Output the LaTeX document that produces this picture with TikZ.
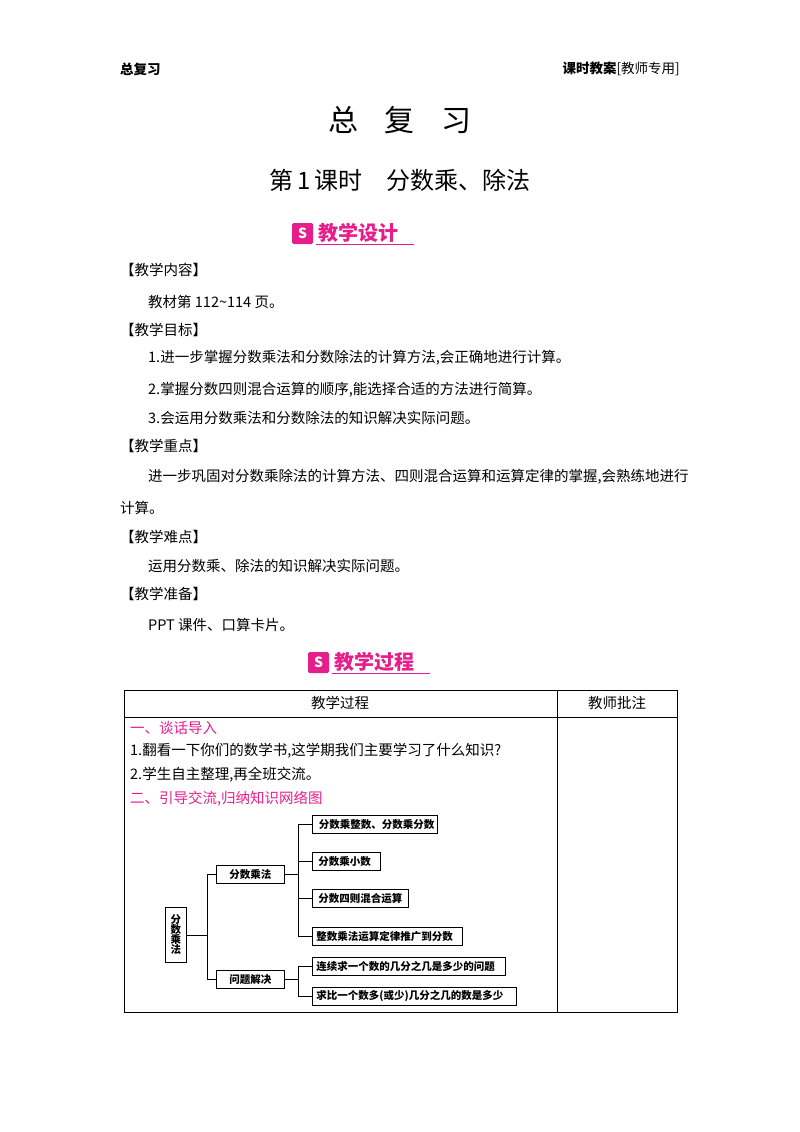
\documentclass[tikz,border=0pt]{standalone}
\usepackage{fontspec}
\setmainfont{Noto Sans CJK SC}
\definecolor{mag}{RGB}{230,30,140}
\begin{document}
\begin{tikzpicture}[x=1pt,y=-1pt,
 txt/.style={anchor=west,inner sep=0,font=\fontsize{14.5}{16}\selectfont},
 box/.style={draw,line width=0.9pt,inner sep=0,minimum height=18pt,anchor=north west,font=\fontsize{10.5}{12}\selectfont\bfseries},
 ln/.style={line width=0.7pt},
 badge/.style={anchor=west,inner sep=0,text=mag,font=\fontsize{20}{22}\selectfont\bfseries}]
\useasboundingbox (0,0) rectangle (800,1132);
\node[txt,font=\fontsize{13.5}{15}\selectfont\bfseries] (h1) at (120,69) {总复习};
\node[txt,anchor=east,font=\fontsize{13.5}{15}\selectfont] (h2) at (680,69) {\textbf{课时教案}[教师专用]};
\node[inner sep=0,font=\fontsize{30}{32}\selectfont] (t1) at (400,120) {总\hspace{0.9em}复\hspace{0.9em}习};
\node[inner sep=0,font=\fontsize{24}{26}\selectfont] (t2) at (400,180) {第\,1\,课时\hspace{1em}分数乘、除法};
% badge 1
\fill[mag,rounded corners=1.5pt] (292,223) rectangle (313,244);
\node[text=white,inner sep=0,font=\fontsize{14}{14}\selectfont\bfseries] at (302.5,233.5) {S};
\node[badge] (b1) at (318,233) {教学设计};
\draw[mag,line width=0.8pt] (316,244) -- (414,244);
\node[txt] (s1) at (120,270) {【教学内容】};
\node[txt] (s2) at (148,302) {教材第 112\textasciitilde114 页。};
\node[txt] (s3) at (120,330) {【教学目标】};
\node[txt] (s4) at (148,358) {1.进一步掌握分数乘法和分数除法的计算方法,会正确地进行计算。};
\node[txt] (s5) at (148,390) {2.掌握分数四则混合运算的顺序,能选择合适的方法进行简算。};
\node[txt] (s6) at (148,418) {3.会运用分数乘法和分数除法的知识解决实际问题。};
\node[txt] (s7) at (120,446) {【教学重点】};
\node[txt] (s8) at (148,477) {进一步巩固对分数乘除法的计算方法、四则混合运算和运算定律的掌握,会熟练地进行};
\node[txt] (s9) at (120,508) {计算。};
\node[txt] (s10) at (120,537) {【教学难点】};
\node[txt] (s11) at (148,566) {运用分数乘、除法的知识解决实际问题。};
\node[txt] (s12) at (120,594) {【教学准备】};
\node[txt] (s13) at (148,625) {PPT 课件、口算卡片。};
% badge 2
\fill[mag,rounded corners=1.5pt] (308,652) rectangle (329,673);
\node[text=white,inner sep=0,font=\fontsize{14}{14}\selectfont\bfseries] at (318.5,662.5) {S};
\node[badge] (b2) at (334,662) {教学过程};
\draw[mag,line width=0.8pt] (332,673) -- (430,673);
% table
\draw[line width=0.8pt] (124,690) rectangle (677,1012);
\draw[line width=0.6pt] (124,717) -- (677,717);
\draw[line width=0.6pt] (557,690) -- (557,1012);
\node[inner sep=0,font=\fontsize{14.5}{16}\selectfont] (c1) at (340,703) {教学过程};
\node[inner sep=0,font=\fontsize{14.5}{16}\selectfont] (c2) at (617,703) {教师批注};
\node[txt,text=mag] (p1) at (130,728) {一、谈话导入};
\node[txt] (p2) at (130,751) {1.翻看一下你们的数学书,这学期我们主要学习了什么知识?};
\node[txt] (p3) at (130,775) {2.学生自主整理,再全班交流。};
\node[txt,text=mag] (p4) at (130,799) {二、引导交流,归纳知识网络图};
% tree
\node[box,minimum width=21pt,minimum height=55pt,align=center] (r) at (165,907) {分\\[-2pt]数\\[-2pt]乘\\[-2pt]法};
\node[box,minimum width=68pt] (a) at (216,865) {分数乘法};
\node[box,minimum width=68pt] (b) at (216,970) {问题解决};
\node[box,minimum width=125pt,text width=120pt,align=left] (a1) at (312,815) {\hspace{4pt}分数乘整数、分数乘分数};
\node[box,minimum width=68pt,text width=64pt,align=left] (a2) at (312,852) {\hspace{4pt}分数乘小数};
\node[box,minimum width=96pt,text width=92pt,align=left] (a3) at (312,889) {\hspace{4pt}分数四则混合运算};
\node[box,minimum width=150pt,text width=146pt,align=left] (a4) at (312,927) {\hspace{2pt}整数乘法运算定律推广到分数};
\node[box,minimum width=193pt,text width=189pt,align=left] (b1n) at (312,957) {\hspace{2pt}连续求一个数的几分之几是多少的问题};
\node[box,minimum width=204pt,text width=200pt,align=left] (b2n) at (312,987) {\hspace{2pt}求比一个数多(或少)几分之几的数是多少};
\coordinate (t0) at (207,0);
\coordinate (t1c) at (298,0);
\draw[ln] (r.east) -- (r.east -| t0);
\draw[ln] (a.west -| t0) -- (a.west);
\draw[ln] (b.west -| t0) -- (b.west);
\draw[ln] (a.west -| t0) -- (b.west -| t0);
\draw[ln] (a.east) -- (a.east -| t1c);
\draw[ln] (a1.west -| t1c) -- (a4.west -| t1c);
\foreach \n in {a1,a2,a3,a4} \draw[ln] (\n.west -| t1c) -- (\n.west);
\draw[ln] (b.east) -- (b.east -| t1c);
\draw[ln] (b1n.west -| t1c) -- (b2n.west -| t1c);
\foreach \n in {b1n,b2n} \draw[ln] (\n.west -| t1c) -- (\n.west);
\end{tikzpicture}
\end{document}
